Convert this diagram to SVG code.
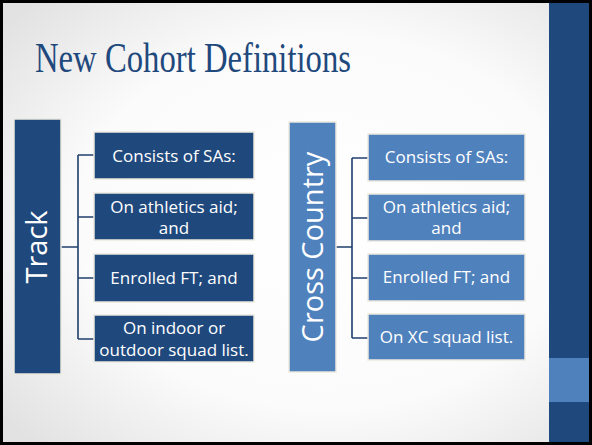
<svg xmlns="http://www.w3.org/2000/svg" width="592" height="445" viewBox="0 0 592 445">
<defs>
<radialGradient id="bg" cx="0.55" cy="0.5" r="0.7">
<stop offset="0" stop-color="#ffffff"/>
<stop offset="0.6" stop-color="#fbfbfb"/>
<stop offset="1" stop-color="#e2e2e2"/>
</radialGradient>
<style>
.dk{fill:#1F497D;stroke:#ECE9DF;stroke-width:1.5}
.lt{fill:#4F81BD;stroke:#ECE9DF;stroke-width:1.5}
.t{font-family:"Open Sans","Liberation Sans",sans-serif;fill:#fff;text-anchor:middle;font-size:17px}
.v{font-family:"Open Sans","Liberation Sans",sans-serif;fill:#fff;text-anchor:middle}
.c{fill:none;stroke:#1F3F6B;stroke-width:1.6}
</style>
</defs>
<rect x="0" y="0" width="592" height="445" fill="url(#bg)"/>
<rect x="549" y="0" width="43" height="445" fill="#1F497D"/>
<rect x="549" y="358" width="43" height="44" fill="#4F81BD"/>
<rect x="1.5" y="1.5" width="589" height="442" fill="none" stroke="#000" stroke-width="3"/>
<text x="35" y="72" font-family="'Liberation Serif',serif" font-size="43" fill="#1F497D" textLength="316" lengthAdjust="spacingAndGlyphs">New Cohort Definitions</text>
<g id="connectors">
<path class="c" d="M61 247H78M78 155V339M78 155H94M78 217H94M78 278H94M78 339H94"/>
<path class="c" d="M336 247H352M352 158V338M352 158H368M352 218H368M352 278H368M352 338H368"/>
</g>
<g id="track">
<rect class="dk" x="14" y="119" width="47" height="255"/>
<text class="v" font-size="29" transform="translate(47,247) rotate(-90)">Track</text>
</g>
<g id="t1"><rect class="dk" x="94" y="132" width="160" height="47"/><text class="t" x="174" y="162">Consists of SAs:</text></g>
<g id="t2"><rect class="dk" x="94" y="193" width="160" height="47"/><text class="t" x="174" y="213">On athletics aid;</text><text class="t" x="174" y="234">and</text></g>
<g id="t3"><rect class="dk" x="94" y="254" width="160" height="48"/><text class="t" x="174" y="284">Enrolled FT; and</text></g>
<g id="t4"><rect class="dk" x="94" y="315" width="160" height="47"/><text class="t" x="174" y="334">On indoor or</text><text class="t" x="174" y="356">outdoor squad list.</text></g>
<g id="xc">
<rect class="lt" x="289" y="122" width="47" height="250"/>
<text class="v" font-size="29" transform="translate(323,247) rotate(-90)">Cross Country</text>
</g>
<g id="x1"><rect class="lt" x="368" y="134" width="157" height="47"/><text class="t" x="446.5" y="163">Consists of SAs:</text></g>
<g id="x2"><rect class="lt" x="368" y="194" width="157" height="47"/><text class="t" x="446.5" y="213">On athletics aid;</text><text class="t" x="446.5" y="234">and</text></g>
<g id="x3"><rect class="lt" x="368" y="254" width="157" height="47"/><text class="t" x="446.5" y="283">Enrolled FT; and</text></g>
<g id="x4"><rect class="lt" x="368" y="314" width="157" height="46"/><text class="t" x="446.5" y="343">On XC squad list.</text></g>
</svg>
